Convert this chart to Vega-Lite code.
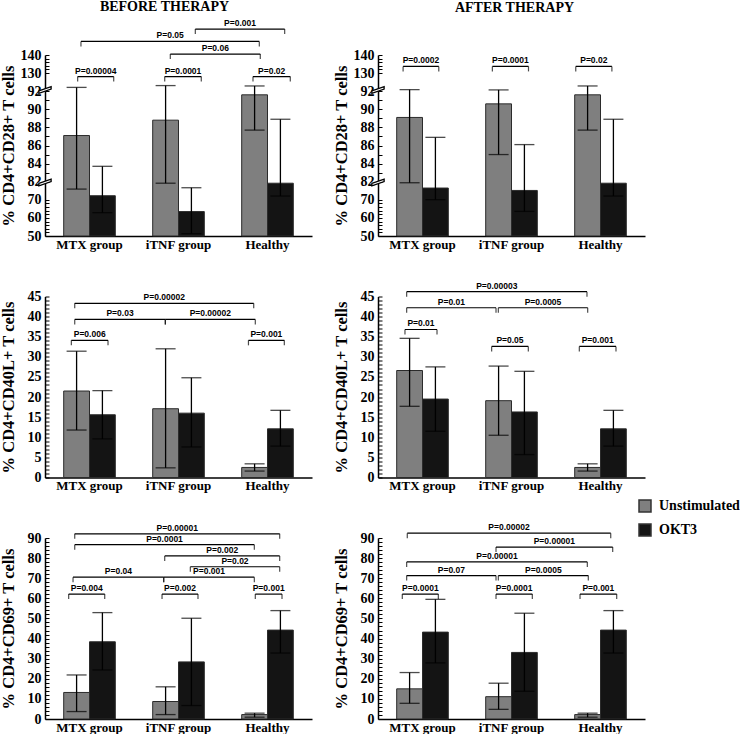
{
  "$schema": "https://vega.github.io/schema/vega-lite/v6.json",
  "padding": {"left": 0, "top": 0, "right": 0, "bottom": 0},
  "datasets": {
    "bars": [
      {"panel": "B28", "group": "MTX group", "sub": "Unstimulated", "mean": 87.1, "low": 77.1, "high": 100},
      {"panel": "B28", "group": "MTX group", "sub": "OKT3", "mean": 72.7, "low": 62.9, "high": 83.7},
      {"panel": "B28", "group": "iTNF group", "sub": "Unstimulated", "mean": 88.8, "low": 81, "high": 103.8},
      {"panel": "B28", "group": "iTNF group", "sub": "OKT3", "mean": 63.5, "low": 51.3, "high": 78},
      {"panel": "B28", "group": "Healthy", "sub": "Unstimulated", "mean": 91.6, "low": 87.7, "high": 103},
      {"panel": "B28", "group": "Healthy", "sub": "OKT3", "mean": 81, "low": 72.5, "high": 88.9},
      {"panel": "A28", "group": "MTX group", "sub": "Unstimulated", "mean": 89.1, "low": 81.3, "high": 95.3},
      {"panel": "A28", "group": "MTX group", "sub": "OKT3", "mean": 77.8, "low": 70.1, "high": 86.9},
      {"panel": "A28", "group": "iTNF group", "sub": "Unstimulated", "mean": 90.6, "low": 85.0, "high": 94.7},
      {"panel": "A28", "group": "iTNF group", "sub": "OKT3", "mean": 76.2, "low": 63.6, "high": 86.1},
      {"panel": "A28", "group": "Healthy", "sub": "Unstimulated", "mean": 91.6, "low": 87.7, "high": 103},
      {"panel": "A28", "group": "Healthy", "sub": "OKT3", "mean": 81, "low": 72.5, "high": 88.9},
      {"panel": "B40", "group": "MTX group", "sub": "Unstimulated", "mean": 21.5, "low": 11.8, "high": 31.4},
      {"panel": "B40", "group": "MTX group", "sub": "OKT3", "mean": 15.6, "low": 9.6, "high": 21.6},
      {"panel": "B40", "group": "iTNF group", "sub": "Unstimulated", "mean": 17.1, "low": 2.4, "high": 32.0},
      {"panel": "B40", "group": "iTNF group", "sub": "OKT3", "mean": 16.0, "low": 7.6, "high": 24.8},
      {"panel": "B40", "group": "Healthy", "sub": "Unstimulated", "mean": 2.5, "low": 1.6, "high": 3.4},
      {"panel": "B40", "group": "Healthy", "sub": "OKT3", "mean": 12.1, "low": 7.8, "high": 16.7},
      {"panel": "A40", "group": "MTX group", "sub": "Unstimulated", "mean": 26.6, "low": 17.7, "high": 34.6},
      {"panel": "A40", "group": "MTX group", "sub": "OKT3", "mean": 19.5, "low": 11.5, "high": 27.5},
      {"panel": "A40", "group": "iTNF group", "sub": "Unstimulated", "mean": 19.1, "low": 10.5, "high": 27.7},
      {"panel": "A40", "group": "iTNF group", "sub": "OKT3", "mean": 16.3, "low": 5.7, "high": 26.4},
      {"panel": "A40", "group": "Healthy", "sub": "Unstimulated", "mean": 2.5, "low": 1.6, "high": 3.4},
      {"panel": "A40", "group": "Healthy", "sub": "OKT3", "mean": 12.1, "low": 7.8, "high": 16.7},
      {"panel": "B69", "group": "MTX group", "sub": "Unstimulated", "mean": 13.2, "low": 3.7, "high": 21.9},
      {"panel": "B69", "group": "MTX group", "sub": "OKT3", "mean": 38.4, "low": 24.4, "high": 52.9},
      {"panel": "B69", "group": "iTNF group", "sub": "Unstimulated", "mean": 8.7, "low": 2.2, "high": 16.0},
      {"panel": "B69", "group": "iTNF group", "sub": "OKT3", "mean": 28.4, "low": 6.7, "high": 50.1},
      {"panel": "B69", "group": "Healthy", "sub": "Unstimulated", "mean": 2.2, "low": 0.9, "high": 2.9},
      {"panel": "B69", "group": "Healthy", "sub": "OKT3", "mean": 44.2, "low": 32.8, "high": 53.9},
      {"panel": "A69", "group": "MTX group", "sub": "Unstimulated", "mean": 15.0, "low": 7.8, "high": 23.1},
      {"panel": "A69", "group": "MTX group", "sub": "OKT3", "mean": 43.2, "low": 27.9, "high": 59.5},
      {"panel": "A69", "group": "iTNF group", "sub": "Unstimulated", "mean": 11.1, "low": 4.8, "high": 17.8},
      {"panel": "A69", "group": "iTNF group", "sub": "OKT3", "mean": 33.1, "low": 13.8, "high": 52.6},
      {"panel": "A69", "group": "Healthy", "sub": "Unstimulated", "mean": 2.2, "low": 0.9, "high": 2.9},
      {"panel": "A69", "group": "Healthy", "sub": "OKT3", "mean": 44.2, "low": 32.8, "high": 53.9}
    ],
    "brackets": [
      {"panel": "B28", "id": 1, "label": "P=0.00004", "x1": 0.367, "x2": 0.772, "y": 122.6},
      {"panel": "B28", "id": 2, "label": "P=0.0001", "x1": 1.345, "x2": 1.756, "y": 122.6},
      {"panel": "B28", "id": 3, "label": "P=0.02", "x1": 2.337, "x2": 2.756, "y": 122.6},
      {"panel": "B28", "id": 4, "label": "P=0.05", "x1": 0.404, "x2": 2.408, "y": 147.5},
      {"panel": "B28", "id": 5, "label": "P=0.06", "x1": 1.408, "x2": 2.419, "y": 140.5},
      {"panel": "B28", "id": 6, "label": "P=0.001", "x1": 1.689, "x2": 2.693, "y": 154.3},
      {"panel": "A28", "id": 1, "label": "P=0.0002", "x1": 0.282, "x2": 0.683, "y": 133.7},
      {"panel": "A28", "id": 2, "label": "P=0.0001", "x1": 1.285, "x2": 1.691, "y": 133.7},
      {"panel": "A28", "id": 3, "label": "P=0.02", "x1": 2.222, "x2": 2.628, "y": 133.7},
      {"panel": "B40", "id": 1, "label": "P=0.00002", "x1": 0.334, "x2": 2.345, "y": 43.3},
      {"panel": "B40", "id": 2, "label": "P=0.03", "x1": 0.334, "x2": 1.352, "y": 39.3},
      {"panel": "B40", "id": 3, "label": "P=0.00002", "x1": 1.352, "x2": 2.363, "y": 39.3},
      {"panel": "B40", "id": 4, "label": "P=0.006", "x1": 0.296, "x2": 0.708, "y": 34.1},
      {"panel": "B40", "id": 5, "label": "P=0.001", "x1": 2.286, "x2": 2.689, "y": 34.1},
      {"panel": "A40", "id": 1, "label": "P=0.00003", "x1": 0.322, "x2": 2.348, "y": 46.2},
      {"panel": "A40", "id": 2, "label": "P=0.01", "x1": 0.322, "x2": 1.326, "y": 42.2},
      {"panel": "A40", "id": 3, "label": "P=0.0005", "x1": 1.352, "x2": 2.356, "y": 42.2},
      {"panel": "A40", "id": 4, "label": "P=0.01", "x1": 0.303, "x2": 0.663, "y": 36.8},
      {"panel": "A40", "id": 5, "label": "P=0.05", "x1": 1.277, "x2": 1.689, "y": 32.6},
      {"panel": "A40", "id": 6, "label": "P=0.001", "x1": 2.262, "x2": 2.674, "y": 32.6},
      {"panel": "B69", "id": 1, "label": "P=0.00001", "x1": 0.334, "x2": 2.637, "y": 92.1},
      {"panel": "B69", "id": 2, "label": "P=0.0001", "x1": 0.334, "x2": 2.352, "y": 86.7},
      {"panel": "B69", "id": 3, "label": "P=0.002", "x1": 1.345, "x2": 2.637, "y": 81.1},
      {"panel": "B69", "id": 4, "label": "P=0.02", "x1": 1.633, "x2": 2.637, "y": 75.7},
      {"panel": "B69", "id": 5, "label": "P=0.04", "x1": 0.315, "x2": 1.334, "y": 70.5},
      {"panel": "B69", "id": 6, "label": "P=0.001", "x1": 1.334, "x2": 2.352, "y": 70.5},
      {"panel": "B69", "id": 7, "label": "P=0.004", "x1": 0.266, "x2": 0.671, "y": 62.1},
      {"panel": "B69", "id": 8, "label": "P=0.002", "x1": 1.315, "x2": 1.719, "y": 62.1},
      {"panel": "B69", "id": 9, "label": "P=0.001", "x1": 2.363, "x2": 2.663, "y": 62.1},
      {"panel": "A69", "id": 1, "label": "P=0.00002", "x1": 0.329, "x2": 2.615, "y": 92.4},
      {"panel": "A69", "id": 2, "label": "P=0.00001", "x1": 1.326, "x2": 2.637, "y": 85.5},
      {"panel": "A69", "id": 3, "label": "P=0.00001", "x1": 0.322, "x2": 2.352, "y": 78.1},
      {"panel": "A69", "id": 4, "label": "P=0.07", "x1": 0.322, "x2": 1.326, "y": 71.3},
      {"panel": "A69", "id": 5, "label": "P=0.0005", "x1": 1.352, "x2": 2.363, "y": 71.3},
      {"panel": "A69", "id": 6, "label": "P=0.0001", "x1": 0.273, "x2": 0.678, "y": 62.1},
      {"panel": "A69", "id": 7, "label": "P=0.0001", "x1": 1.326, "x2": 1.734, "y": 62.1},
      {"panel": "A69", "id": 8, "label": "P=0.001", "x1": 2.270, "x2": 2.682, "y": 62.1}
    ],
    "breaks": [
      {"panel": "B28", "y": 94.5},
      {"panel": "B28", "y": 81.5},
      {"panel": "A28", "y": 94.5},
      {"panel": "A28", "y": 81.5}
    ]
  },
  "config": {
    "view": {"stroke": null},
    "font": "Liberation Serif",
    "axis": {"domainColor": "black", "tickColor": "black", "labelColor": "black", "titleColor": "black", "grid": false, "labelFont": "Liberation Serif", "labelFontWeight": "bold", "titleFont": "Liberation Serif", "titleFontWeight": "bold", "domainWidth": 1.5, "labelOverlap": false},
    "axisY": {"labelFontSize": 14, "titleFontSize": 16.5, "tickSize": -4, "tickWidth": 1, "labelPadding": 8, "titleX": -29, "labelOverlap": false},
    "axisX": {"labelFontSize": 13, "ticks": false, "labelPadding": 2},
    "title": {"font": "Liberation Serif", "fontWeight": "bold", "fontSize": 14, "color": "black", "anchor": "middle", "frame": "group"}
  },
  "columns": 2,
  "spacing": {"row": 60.5, "column": 66},
  "bounds": "flush",
  "concat": [
    {
      "width": 267, "height": 181,
      "title": {"text": "BEFORE THERAPY", "dx": -14, "offset": 5, "frame": "group"},
      "layer": [
        {"data": {"name": "bars"}, "transform": [{"filter": "datum.panel === 'B28'"}],
         "layer": [
          {"mark": {"type": "bar", "stroke": "#2b2b2b", "strokeWidth": 1},
           "encoding": {
             "x": {"field": "group", "type": "nominal", "scale": {"domain": ["MTX group", "iTNF group", "Healthy"], "paddingInner": 0.42, "paddingOuter": 0.21}, "axis": {"title": null, "labelAngle": 0}},
             "xOffset": {"field": "sub", "type": "nominal", "scale": {"domain": ["Unstimulated", "OKT3"], "paddingInner": 0, "paddingOuter": 0}},
             "y": {"field": "mean", "type": "quantitative", "scale": {"domain": [50, 70, 82, 92, 130, 140], "range": [181, 144.8, 126.7, 36.2, 18.1, 0], "nice": false, "zero": false}, "axis": {"title": "% CD4+CD28+ T cells", "titleX": -29, "labelOverlap": false, "tickCount": 100, "values": [50, 52, 54, 56, 58, 60, 62, 64, 66, 68, 70, 82, 83, 84, 85, 86, 87, 88, 89, 90, 91, 92, 130, 132, 134, 136, 138, 140], "labelExpr": "(datum.value == 50 || datum.value == 60 || datum.value == 70 || datum.value == 82 || datum.value == 84 || datum.value == 86 || datum.value == 88 || datum.value == 90 || datum.value == 92 || datum.value == 130 || datum.value == 140) ? datum.label : ''"}},
             "y2": {"datum": 50},
             "color": {"field": "sub", "type": "nominal", "scale": {"domain": ["Unstimulated", "OKT3"], "range": ["#7f7f7f", "#141414"]}, "legend": {"title": null, "orient": "none", "legendX": 593, "legendY": 444, "symbolType": "square", "symbolSize": 144, "symbolStrokeColor": "#333333", "symbolStrokeWidth": 1.5, "labelFont": "Liberation Serif", "labelFontWeight": "bold", "labelFontSize": 14, "labelColor": "black", "rowPadding": 6, "labelOffset": 7}}
           }},
          {"mark": {"type": "rule", "color": "black", "strokeWidth": 1.3},
           "encoding": {
             "x": {"field": "group", "type": "nominal", "scale": {"domain": ["MTX group", "iTNF group", "Healthy"], "paddingInner": 0.42, "paddingOuter": 0.21}},
             "xOffset": {"field": "sub", "type": "nominal", "scale": {"domain": ["Unstimulated", "OKT3"], "paddingInner": 0, "paddingOuter": 0}},
             "y": {"field": "low", "type": "quantitative", "scale": {"domain": [50, 70, 82, 92, 130, 140], "range": [181, 144.8, 126.7, 36.2, 18.1, 0], "nice": false, "zero": false}},
             "y2": {"field": "high"}
           }},
          {"transform": [{"fold": ["low", "high"], "as": ["end", "val"]}],
           "mark": {"type": "tick", "orient": "horizontal", "size": 20, "thickness": 1.3, "color": "black"},
           "encoding": {
             "x": {"field": "group", "type": "nominal", "scale": {"domain": ["MTX group", "iTNF group", "Healthy"], "paddingInner": 0.42, "paddingOuter": 0.21}},
             "xOffset": {"field": "sub", "type": "nominal", "scale": {"domain": ["Unstimulated", "OKT3"], "paddingInner": 0, "paddingOuter": 0}},
             "y": {"field": "val", "type": "quantitative", "scale": {"domain": [50, 70, 82, 92, 130, 140], "range": [181, 144.8, 126.7, 36.2, 18.1, 0], "nice": false, "zero": false}}
           }}
         ]},
        {"data": {"name": "brackets"}, "transform": [{"filter": "datum.panel === 'B28'"}],
         "layer": [
          {"mark": {"type": "rule", "color": "black", "strokeWidth": 1.2},
           "encoding": {
             "x": {"field": "x1", "type": "quantitative", "scale": {"domain": [0, 3], "nice": false, "zero": false}, "axis": null},
             "x2": {"field": "x2"},
             "y": {"field": "y", "type": "quantitative", "scale": {"domain": [50, 70, 82, 92, 130, 140], "range": [181, 144.8, 126.7, 36.2, 18.1, 0], "nice": false, "zero": false}}
           }},
          {"transform": [{"fold": ["x1", "x2"], "as": ["end", "xv"]}],
           "mark": {"type": "tick", "orient": "vertical", "size": 5, "thickness": 1.2, "yOffset": 2.5, "color": "black"},
           "encoding": {
             "x": {"field": "xv", "type": "quantitative", "scale": {"domain": [0, 3], "nice": false, "zero": false}, "axis": null},
             "y": {"field": "y", "type": "quantitative", "scale": {"domain": [50, 70, 82, 92, 130, 140], "range": [181, 144.8, 126.7, 36.2, 18.1, 0], "nice": false, "zero": false}}
           }},
          {"transform": [{"fold": ["x1", "x2"], "as": ["end", "xv"]}],
           "mark": {"type": "text", "font": "Liberation Sans", "fontWeight": "bold", "fontSize": 8.5, "baseline": "bottom", "dy": -1, "color": "black"},
           "encoding": {
             "x": {"aggregate": "mean", "field": "xv", "type": "quantitative", "scale": {"domain": [0, 3], "nice": false, "zero": false}, "axis": null},
             "y": {"field": "y", "type": "quantitative", "scale": {"domain": [50, 70, 82, 92, 130, 140], "range": [181, 144.8, 126.7, 36.2, 18.1, 0], "nice": false, "zero": false}},
             "text": {"field": "label"},
             "detail": {"field": "id"}
           }},
          {"data": {"name": "breaks"}, "transform": [{"filter": "datum.panel === 'B28'"}],
           "mark": {"type": "point", "shape": "M-1,0.15L1,-0.55L1,-0.15L-1,0.55Z", "size": 150, "filled": true, "fill": "white", "stroke": "black", "strokeWidth": 1.3, "opacity": 1},
           "encoding": {
             "x": {"datum": 0, "type": "quantitative", "scale": {"domain": [0, 3], "nice": false, "zero": false}, "axis": null},
             "y": {"field": "y", "type": "quantitative", "scale": {"domain": [50, 70, 82, 92, 130, 140], "range": [181, 144.8, 126.7, 36.2, 18.1, 0], "nice": false, "zero": false}}
           }}
         ]}
      ],
      "resolve": {"scale": {"x": "independent"}}
    },
    {
      "width": 267, "height": 181,
      "title": {"text": "AFTER THERAPY", "dx": 3, "offset": 33, "frame": "group"},
      "layer": [
        {"data": {"name": "bars"}, "transform": [{"filter": "datum.panel === 'A28'"}],
         "layer": [
          {"mark": {"type": "bar", "stroke": "#2b2b2b", "strokeWidth": 1},
           "encoding": {
             "x": {"field": "group", "type": "nominal", "scale": {"domain": ["MTX group", "iTNF group", "Healthy"], "paddingInner": 0.42, "paddingOuter": 0.21}, "axis": {"title": null, "labelAngle": 0}},
             "xOffset": {"field": "sub", "type": "nominal", "scale": {"domain": ["Unstimulated", "OKT3"], "paddingInner": 0, "paddingOuter": 0}},
             "y": {"field": "mean", "type": "quantitative", "scale": {"domain": [50, 70, 82, 92, 130, 140], "range": [181, 144.8, 126.7, 36.2, 18.1, 0], "nice": false, "zero": false}, "axis": {"title": "% CD4+CD28+ T cells", "titleX": -29, "labelOverlap": false, "tickCount": 100, "values": [50, 52, 54, 56, 58, 60, 62, 64, 66, 68, 70, 82, 83, 84, 85, 86, 87, 88, 89, 90, 91, 92, 130, 132, 134, 136, 138, 140], "labelExpr": "(datum.value == 50 || datum.value == 60 || datum.value == 70 || datum.value == 82 || datum.value == 84 || datum.value == 86 || datum.value == 88 || datum.value == 90 || datum.value == 92 || datum.value == 130 || datum.value == 140) ? datum.label : ''"}},
             "y2": {"datum": 50},
             "color": {"field": "sub", "type": "nominal", "scale": {"domain": ["Unstimulated", "OKT3"], "range": ["#7f7f7f", "#141414"]}, "legend": {"title": null, "orient": "none", "legendX": 593, "legendY": 444, "symbolType": "square", "symbolSize": 144, "symbolStrokeColor": "#333333", "symbolStrokeWidth": 1.5, "labelFont": "Liberation Serif", "labelFontWeight": "bold", "labelFontSize": 14, "labelColor": "black", "rowPadding": 6, "labelOffset": 7}}
           }},
          {"mark": {"type": "rule", "color": "black", "strokeWidth": 1.3},
           "encoding": {
             "x": {"field": "group", "type": "nominal", "scale": {"domain": ["MTX group", "iTNF group", "Healthy"], "paddingInner": 0.42, "paddingOuter": 0.21}},
             "xOffset": {"field": "sub", "type": "nominal", "scale": {"domain": ["Unstimulated", "OKT3"], "paddingInner": 0, "paddingOuter": 0}},
             "y": {"field": "low", "type": "quantitative", "scale": {"domain": [50, 70, 82, 92, 130, 140], "range": [181, 144.8, 126.7, 36.2, 18.1, 0], "nice": false, "zero": false}},
             "y2": {"field": "high"}
           }},
          {"transform": [{"fold": ["low", "high"], "as": ["end", "val"]}],
           "mark": {"type": "tick", "orient": "horizontal", "size": 20, "thickness": 1.3, "color": "black"},
           "encoding": {
             "x": {"field": "group", "type": "nominal", "scale": {"domain": ["MTX group", "iTNF group", "Healthy"], "paddingInner": 0.42, "paddingOuter": 0.21}},
             "xOffset": {"field": "sub", "type": "nominal", "scale": {"domain": ["Unstimulated", "OKT3"], "paddingInner": 0, "paddingOuter": 0}},
             "y": {"field": "val", "type": "quantitative", "scale": {"domain": [50, 70, 82, 92, 130, 140], "range": [181, 144.8, 126.7, 36.2, 18.1, 0], "nice": false, "zero": false}}
           }}
         ]},
        {"data": {"name": "brackets"}, "transform": [{"filter": "datum.panel === 'A28'"}],
         "layer": [
          {"mark": {"type": "rule", "color": "black", "strokeWidth": 1.2},
           "encoding": {
             "x": {"field": "x1", "type": "quantitative", "scale": {"domain": [0, 3], "nice": false, "zero": false}, "axis": null},
             "x2": {"field": "x2"},
             "y": {"field": "y", "type": "quantitative", "scale": {"domain": [50, 70, 82, 92, 130, 140], "range": [181, 144.8, 126.7, 36.2, 18.1, 0], "nice": false, "zero": false}}
           }},
          {"transform": [{"fold": ["x1", "x2"], "as": ["end", "xv"]}],
           "mark": {"type": "tick", "orient": "vertical", "size": 5, "thickness": 1.2, "yOffset": 2.5, "color": "black"},
           "encoding": {
             "x": {"field": "xv", "type": "quantitative", "scale": {"domain": [0, 3], "nice": false, "zero": false}, "axis": null},
             "y": {"field": "y", "type": "quantitative", "scale": {"domain": [50, 70, 82, 92, 130, 140], "range": [181, 144.8, 126.7, 36.2, 18.1, 0], "nice": false, "zero": false}}
           }},
          {"transform": [{"fold": ["x1", "x2"], "as": ["end", "xv"]}],
           "mark": {"type": "text", "font": "Liberation Sans", "fontWeight": "bold", "fontSize": 8.5, "baseline": "bottom", "dy": -1, "color": "black"},
           "encoding": {
             "x": {"aggregate": "mean", "field": "xv", "type": "quantitative", "scale": {"domain": [0, 3], "nice": false, "zero": false}, "axis": null},
             "y": {"field": "y", "type": "quantitative", "scale": {"domain": [50, 70, 82, 92, 130, 140], "range": [181, 144.8, 126.7, 36.2, 18.1, 0], "nice": false, "zero": false}},
             "text": {"field": "label"},
             "detail": {"field": "id"}
           }},
          {"data": {"name": "breaks"}, "transform": [{"filter": "datum.panel === 'A28'"}],
           "mark": {"type": "point", "shape": "M-1,0.15L1,-0.55L1,-0.15L-1,0.55Z", "size": 150, "filled": true, "fill": "white", "stroke": "black", "strokeWidth": 1.3, "opacity": 1},
           "encoding": {
             "x": {"datum": 0, "type": "quantitative", "scale": {"domain": [0, 3], "nice": false, "zero": false}, "axis": null},
             "y": {"field": "y", "type": "quantitative", "scale": {"domain": [50, 70, 82, 92, 130, 140], "range": [181, 144.8, 126.7, 36.2, 18.1, 0], "nice": false, "zero": false}}
           }}
         ]}
      ],
      "resolve": {"scale": {"x": "independent"}}
    },
    {
      "width": 267, "height": 181,
      "layer": [
        {"data": {"name": "bars"}, "transform": [{"filter": "datum.panel === 'B40'"}],
         "layer": [
          {"mark": {"type": "bar", "stroke": "#2b2b2b", "strokeWidth": 1},
           "encoding": {
             "x": {"field": "group", "type": "nominal", "scale": {"domain": ["MTX group", "iTNF group", "Healthy"], "paddingInner": 0.42, "paddingOuter": 0.21}, "axis": {"title": null, "labelAngle": 0}},
             "xOffset": {"field": "sub", "type": "nominal", "scale": {"domain": ["Unstimulated", "OKT3"], "paddingInner": 0, "paddingOuter": 0}},
             "y": {"field": "mean", "type": "quantitative", "scale": {"domain": [0, 45], "nice": false}, "axis": {"title": "% CD4+CD40L+ T cells", "titleX": -29, "tickCount": 45, "labelExpr": "datum.value % 5 === 0 ? datum.label : ''"}},
             "color": {"field": "sub", "type": "nominal", "scale": {"domain": ["Unstimulated", "OKT3"], "range": ["#7f7f7f", "#141414"]}, "legend": {"title": null, "orient": "none", "legendX": 593, "legendY": 444, "symbolType": "square", "symbolSize": 144, "symbolStrokeColor": "#333333", "symbolStrokeWidth": 1.5, "labelFont": "Liberation Serif", "labelFontWeight": "bold", "labelFontSize": 14, "labelColor": "black", "rowPadding": 6, "labelOffset": 7}}
           }},
          {"mark": {"type": "rule", "color": "black", "strokeWidth": 1.3},
           "encoding": {
             "x": {"field": "group", "type": "nominal", "scale": {"domain": ["MTX group", "iTNF group", "Healthy"], "paddingInner": 0.42, "paddingOuter": 0.21}},
             "xOffset": {"field": "sub", "type": "nominal", "scale": {"domain": ["Unstimulated", "OKT3"], "paddingInner": 0, "paddingOuter": 0}},
             "y": {"field": "low", "type": "quantitative", "scale": {"domain": [0, 45], "nice": false}},
             "y2": {"field": "high"}
           }},
          {"transform": [{"fold": ["low", "high"], "as": ["end", "val"]}],
           "mark": {"type": "tick", "orient": "horizontal", "size": 20, "thickness": 1.3, "color": "black"},
           "encoding": {
             "x": {"field": "group", "type": "nominal", "scale": {"domain": ["MTX group", "iTNF group", "Healthy"], "paddingInner": 0.42, "paddingOuter": 0.21}},
             "xOffset": {"field": "sub", "type": "nominal", "scale": {"domain": ["Unstimulated", "OKT3"], "paddingInner": 0, "paddingOuter": 0}},
             "y": {"field": "val", "type": "quantitative", "scale": {"domain": [0, 45], "nice": false}}
           }}
         ]},
        {"data": {"name": "brackets"}, "transform": [{"filter": "datum.panel === 'B40'"}],
         "layer": [
          {"mark": {"type": "rule", "color": "black", "strokeWidth": 1.2},
           "encoding": {
             "x": {"field": "x1", "type": "quantitative", "scale": {"domain": [0, 3], "nice": false, "zero": false}, "axis": null},
             "x2": {"field": "x2"},
             "y": {"field": "y", "type": "quantitative", "scale": {"domain": [0, 45], "nice": false}}
           }},
          {"transform": [{"fold": ["x1", "x2"], "as": ["end", "xv"]}],
           "mark": {"type": "tick", "orient": "vertical", "size": 5, "thickness": 1.2, "yOffset": 2.5, "color": "black"},
           "encoding": {
             "x": {"field": "xv", "type": "quantitative", "scale": {"domain": [0, 3], "nice": false, "zero": false}, "axis": null},
             "y": {"field": "y", "type": "quantitative", "scale": {"domain": [0, 45], "nice": false}}
           }},
          {"transform": [{"fold": ["x1", "x2"], "as": ["end", "xv"]}],
           "mark": {"type": "text", "font": "Liberation Sans", "fontWeight": "bold", "fontSize": 8.5, "baseline": "bottom", "dy": -1, "color": "black"},
           "encoding": {
             "x": {"aggregate": "mean", "field": "xv", "type": "quantitative", "scale": {"domain": [0, 3], "nice": false, "zero": false}, "axis": null},
             "y": {"field": "y", "type": "quantitative", "scale": {"domain": [0, 45], "nice": false}},
             "text": {"field": "label"},
             "detail": {"field": "id"}
           }}
         ]}
      ],
      "resolve": {"scale": {"x": "independent"}}
    },
    {
      "width": 267, "height": 181,
      "layer": [
        {"data": {"name": "bars"}, "transform": [{"filter": "datum.panel === 'A40'"}],
         "layer": [
          {"mark": {"type": "bar", "stroke": "#2b2b2b", "strokeWidth": 1},
           "encoding": {
             "x": {"field": "group", "type": "nominal", "scale": {"domain": ["MTX group", "iTNF group", "Healthy"], "paddingInner": 0.42, "paddingOuter": 0.21}, "axis": {"title": null, "labelAngle": 0}},
             "xOffset": {"field": "sub", "type": "nominal", "scale": {"domain": ["Unstimulated", "OKT3"], "paddingInner": 0, "paddingOuter": 0}},
             "y": {"field": "mean", "type": "quantitative", "scale": {"domain": [0, 45], "nice": false}, "axis": {"title": "% CD4+CD40L+ T cells", "titleX": -29, "tickCount": 45, "labelExpr": "datum.value % 5 === 0 ? datum.label : ''"}},
             "color": {"field": "sub", "type": "nominal", "scale": {"domain": ["Unstimulated", "OKT3"], "range": ["#7f7f7f", "#141414"]}, "legend": {"title": null, "orient": "none", "legendX": 593, "legendY": 444, "symbolType": "square", "symbolSize": 144, "symbolStrokeColor": "#333333", "symbolStrokeWidth": 1.5, "labelFont": "Liberation Serif", "labelFontWeight": "bold", "labelFontSize": 14, "labelColor": "black", "rowPadding": 6, "labelOffset": 7}}
           }},
          {"mark": {"type": "rule", "color": "black", "strokeWidth": 1.3},
           "encoding": {
             "x": {"field": "group", "type": "nominal", "scale": {"domain": ["MTX group", "iTNF group", "Healthy"], "paddingInner": 0.42, "paddingOuter": 0.21}},
             "xOffset": {"field": "sub", "type": "nominal", "scale": {"domain": ["Unstimulated", "OKT3"], "paddingInner": 0, "paddingOuter": 0}},
             "y": {"field": "low", "type": "quantitative", "scale": {"domain": [0, 45], "nice": false}},
             "y2": {"field": "high"}
           }},
          {"transform": [{"fold": ["low", "high"], "as": ["end", "val"]}],
           "mark": {"type": "tick", "orient": "horizontal", "size": 20, "thickness": 1.3, "color": "black"},
           "encoding": {
             "x": {"field": "group", "type": "nominal", "scale": {"domain": ["MTX group", "iTNF group", "Healthy"], "paddingInner": 0.42, "paddingOuter": 0.21}},
             "xOffset": {"field": "sub", "type": "nominal", "scale": {"domain": ["Unstimulated", "OKT3"], "paddingInner": 0, "paddingOuter": 0}},
             "y": {"field": "val", "type": "quantitative", "scale": {"domain": [0, 45], "nice": false}}
           }}
         ]},
        {"data": {"name": "brackets"}, "transform": [{"filter": "datum.panel === 'A40'"}],
         "layer": [
          {"mark": {"type": "rule", "color": "black", "strokeWidth": 1.2},
           "encoding": {
             "x": {"field": "x1", "type": "quantitative", "scale": {"domain": [0, 3], "nice": false, "zero": false}, "axis": null},
             "x2": {"field": "x2"},
             "y": {"field": "y", "type": "quantitative", "scale": {"domain": [0, 45], "nice": false}}
           }},
          {"transform": [{"fold": ["x1", "x2"], "as": ["end", "xv"]}],
           "mark": {"type": "tick", "orient": "vertical", "size": 5, "thickness": 1.2, "yOffset": 2.5, "color": "black"},
           "encoding": {
             "x": {"field": "xv", "type": "quantitative", "scale": {"domain": [0, 3], "nice": false, "zero": false}, "axis": null},
             "y": {"field": "y", "type": "quantitative", "scale": {"domain": [0, 45], "nice": false}}
           }},
          {"transform": [{"fold": ["x1", "x2"], "as": ["end", "xv"]}],
           "mark": {"type": "text", "font": "Liberation Sans", "fontWeight": "bold", "fontSize": 8.5, "baseline": "bottom", "dy": -1, "color": "black"},
           "encoding": {
             "x": {"aggregate": "mean", "field": "xv", "type": "quantitative", "scale": {"domain": [0, 3], "nice": false, "zero": false}, "axis": null},
             "y": {"field": "y", "type": "quantitative", "scale": {"domain": [0, 45], "nice": false}},
             "text": {"field": "label"},
             "detail": {"field": "id"}
           }}
         ]}
      ],
      "resolve": {"scale": {"x": "independent"}}
    },
    {
      "width": 267, "height": 181,
      "layer": [
        {"data": {"name": "bars"}, "transform": [{"filter": "datum.panel === 'B69'"}],
         "layer": [
          {"mark": {"type": "bar", "stroke": "#2b2b2b", "strokeWidth": 1},
           "encoding": {
             "x": {"field": "group", "type": "nominal", "scale": {"domain": ["MTX group", "iTNF group", "Healthy"], "paddingInner": 0.42, "paddingOuter": 0.21}, "axis": {"title": null, "labelAngle": 0}},
             "xOffset": {"field": "sub", "type": "nominal", "scale": {"domain": ["Unstimulated", "OKT3"], "paddingInner": 0, "paddingOuter": 0}},
             "y": {"field": "mean", "type": "quantitative", "scale": {"domain": [0, 90], "nice": false}, "axis": {"title": "% CD4+CD69+ T cells", "titleX": -29, "tickCount": 45, "labelExpr": "datum.value % 10 === 0 ? datum.label : ''"}},
             "color": {"field": "sub", "type": "nominal", "scale": {"domain": ["Unstimulated", "OKT3"], "range": ["#7f7f7f", "#141414"]}, "legend": {"title": null, "orient": "none", "legendX": 593, "legendY": 444, "symbolType": "square", "symbolSize": 144, "symbolStrokeColor": "#333333", "symbolStrokeWidth": 1.5, "labelFont": "Liberation Serif", "labelFontWeight": "bold", "labelFontSize": 14, "labelColor": "black", "rowPadding": 6, "labelOffset": 7}}
           }},
          {"mark": {"type": "rule", "color": "black", "strokeWidth": 1.3},
           "encoding": {
             "x": {"field": "group", "type": "nominal", "scale": {"domain": ["MTX group", "iTNF group", "Healthy"], "paddingInner": 0.42, "paddingOuter": 0.21}},
             "xOffset": {"field": "sub", "type": "nominal", "scale": {"domain": ["Unstimulated", "OKT3"], "paddingInner": 0, "paddingOuter": 0}},
             "y": {"field": "low", "type": "quantitative", "scale": {"domain": [0, 90], "nice": false}},
             "y2": {"field": "high"}
           }},
          {"transform": [{"fold": ["low", "high"], "as": ["end", "val"]}],
           "mark": {"type": "tick", "orient": "horizontal", "size": 20, "thickness": 1.3, "color": "black"},
           "encoding": {
             "x": {"field": "group", "type": "nominal", "scale": {"domain": ["MTX group", "iTNF group", "Healthy"], "paddingInner": 0.42, "paddingOuter": 0.21}},
             "xOffset": {"field": "sub", "type": "nominal", "scale": {"domain": ["Unstimulated", "OKT3"], "paddingInner": 0, "paddingOuter": 0}},
             "y": {"field": "val", "type": "quantitative", "scale": {"domain": [0, 90], "nice": false}}
           }}
         ]},
        {"data": {"name": "brackets"}, "transform": [{"filter": "datum.panel === 'B69'"}],
         "layer": [
          {"mark": {"type": "rule", "color": "black", "strokeWidth": 1.2},
           "encoding": {
             "x": {"field": "x1", "type": "quantitative", "scale": {"domain": [0, 3], "nice": false, "zero": false}, "axis": null},
             "x2": {"field": "x2"},
             "y": {"field": "y", "type": "quantitative", "scale": {"domain": [0, 90], "nice": false}}
           }},
          {"transform": [{"fold": ["x1", "x2"], "as": ["end", "xv"]}],
           "mark": {"type": "tick", "orient": "vertical", "size": 5, "thickness": 1.2, "yOffset": 2.5, "color": "black"},
           "encoding": {
             "x": {"field": "xv", "type": "quantitative", "scale": {"domain": [0, 3], "nice": false, "zero": false}, "axis": null},
             "y": {"field": "y", "type": "quantitative", "scale": {"domain": [0, 90], "nice": false}}
           }},
          {"transform": [{"fold": ["x1", "x2"], "as": ["end", "xv"]}],
           "mark": {"type": "text", "font": "Liberation Sans", "fontWeight": "bold", "fontSize": 8.5, "baseline": "bottom", "dy": -1, "color": "black"},
           "encoding": {
             "x": {"aggregate": "mean", "field": "xv", "type": "quantitative", "scale": {"domain": [0, 3], "nice": false, "zero": false}, "axis": null},
             "y": {"field": "y", "type": "quantitative", "scale": {"domain": [0, 90], "nice": false}},
             "text": {"field": "label"},
             "detail": {"field": "id"}
           }}
         ]}
      ],
      "resolve": {"scale": {"x": "independent"}}
    },
    {
      "width": 267, "height": 181,
      "layer": [
        {"data": {"name": "bars"}, "transform": [{"filter": "datum.panel === 'A69'"}],
         "layer": [
          {"mark": {"type": "bar", "stroke": "#2b2b2b", "strokeWidth": 1},
           "encoding": {
             "x": {"field": "group", "type": "nominal", "scale": {"domain": ["MTX group", "iTNF group", "Healthy"], "paddingInner": 0.42, "paddingOuter": 0.21}, "axis": {"title": null, "labelAngle": 0}},
             "xOffset": {"field": "sub", "type": "nominal", "scale": {"domain": ["Unstimulated", "OKT3"], "paddingInner": 0, "paddingOuter": 0}},
             "y": {"field": "mean", "type": "quantitative", "scale": {"domain": [0, 90], "nice": false}, "axis": {"title": "% CD4+CD69+ T cells", "titleX": -29, "tickCount": 45, "labelExpr": "datum.value % 10 === 0 ? datum.label : ''"}},
             "color": {"field": "sub", "type": "nominal", "scale": {"domain": ["Unstimulated", "OKT3"], "range": ["#7f7f7f", "#141414"]}, "legend": {"title": null, "orient": "none", "legendX": 593, "legendY": 444, "symbolType": "square", "symbolSize": 144, "symbolStrokeColor": "#333333", "symbolStrokeWidth": 1.5, "labelFont": "Liberation Serif", "labelFontWeight": "bold", "labelFontSize": 14, "labelColor": "black", "rowPadding": 6, "labelOffset": 7}}
           }},
          {"mark": {"type": "rule", "color": "black", "strokeWidth": 1.3},
           "encoding": {
             "x": {"field": "group", "type": "nominal", "scale": {"domain": ["MTX group", "iTNF group", "Healthy"], "paddingInner": 0.42, "paddingOuter": 0.21}},
             "xOffset": {"field": "sub", "type": "nominal", "scale": {"domain": ["Unstimulated", "OKT3"], "paddingInner": 0, "paddingOuter": 0}},
             "y": {"field": "low", "type": "quantitative", "scale": {"domain": [0, 90], "nice": false}},
             "y2": {"field": "high"}
           }},
          {"transform": [{"fold": ["low", "high"], "as": ["end", "val"]}],
           "mark": {"type": "tick", "orient": "horizontal", "size": 20, "thickness": 1.3, "color": "black"},
           "encoding": {
             "x": {"field": "group", "type": "nominal", "scale": {"domain": ["MTX group", "iTNF group", "Healthy"], "paddingInner": 0.42, "paddingOuter": 0.21}},
             "xOffset": {"field": "sub", "type": "nominal", "scale": {"domain": ["Unstimulated", "OKT3"], "paddingInner": 0, "paddingOuter": 0}},
             "y": {"field": "val", "type": "quantitative", "scale": {"domain": [0, 90], "nice": false}}
           }}
         ]},
        {"data": {"name": "brackets"}, "transform": [{"filter": "datum.panel === 'A69'"}],
         "layer": [
          {"mark": {"type": "rule", "color": "black", "strokeWidth": 1.2},
           "encoding": {
             "x": {"field": "x1", "type": "quantitative", "scale": {"domain": [0, 3], "nice": false, "zero": false}, "axis": null},
             "x2": {"field": "x2"},
             "y": {"field": "y", "type": "quantitative", "scale": {"domain": [0, 90], "nice": false}}
           }},
          {"transform": [{"fold": ["x1", "x2"], "as": ["end", "xv"]}],
           "mark": {"type": "tick", "orient": "vertical", "size": 5, "thickness": 1.2, "yOffset": 2.5, "color": "black"},
           "encoding": {
             "x": {"field": "xv", "type": "quantitative", "scale": {"domain": [0, 3], "nice": false, "zero": false}, "axis": null},
             "y": {"field": "y", "type": "quantitative", "scale": {"domain": [0, 90], "nice": false}}
           }},
          {"transform": [{"fold": ["x1", "x2"], "as": ["end", "xv"]}],
           "mark": {"type": "text", "font": "Liberation Sans", "fontWeight": "bold", "fontSize": 8.5, "baseline": "bottom", "dy": -1, "color": "black"},
           "encoding": {
             "x": {"aggregate": "mean", "field": "xv", "type": "quantitative", "scale": {"domain": [0, 3], "nice": false, "zero": false}, "axis": null},
             "y": {"field": "y", "type": "quantitative", "scale": {"domain": [0, 90], "nice": false}},
             "text": {"field": "label"},
             "detail": {"field": "id"}
           }}
         ]}
      ],
      "resolve": {"scale": {"x": "independent"}}
    }
  ]
}
